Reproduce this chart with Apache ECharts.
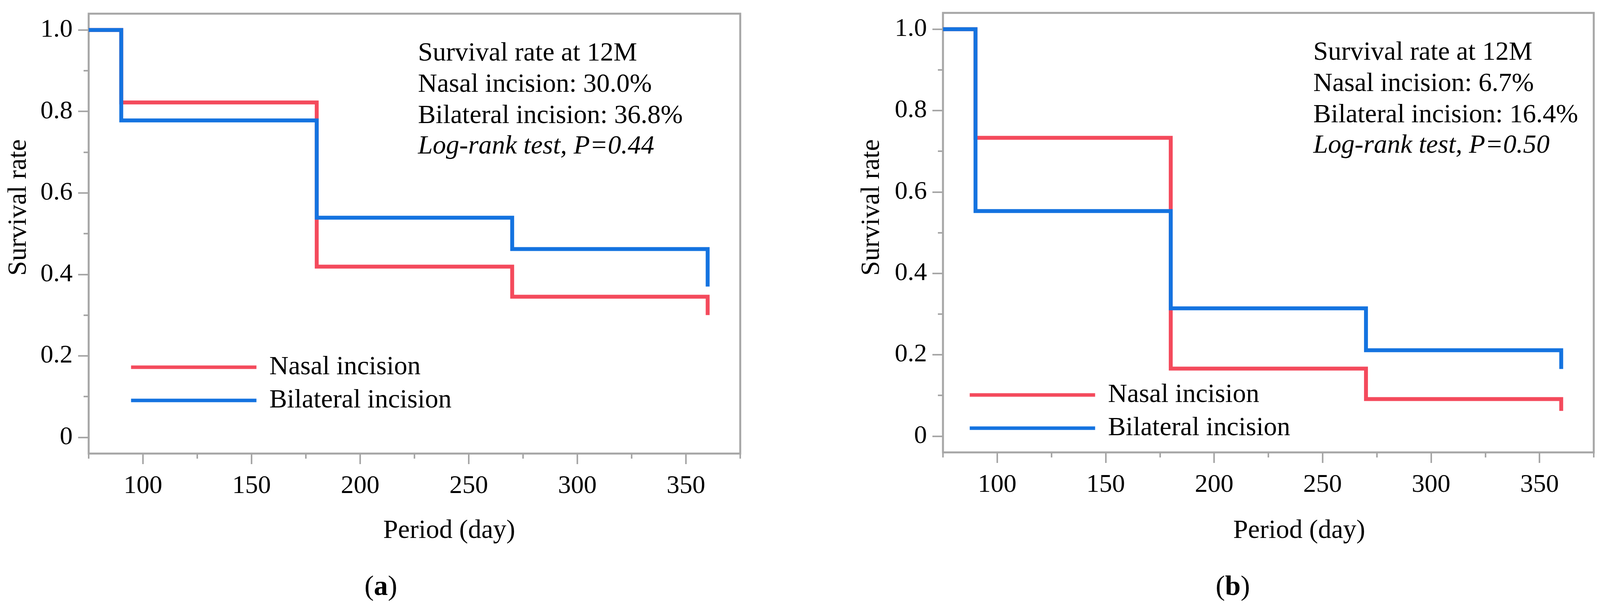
<!DOCTYPE html>
<html>
<head>
<meta charset="utf-8">
<script src="https://cdn.jsdelivr.net/npm/echarts@6/dist/echarts.min.js"></script>
<style>
  html, body { margin: 0; padding: 0; background: #fff; }
  #main { width: 4101px; height: 1564px; }
</style>
</head>
<body>
<div id="main"></div>
<script>
// ---- data ----
const days = [75, 90, 180, 270, 360];
const nasalA = [1.0, 0.822, 0.419, 0.345, 0.300];
const bilateralA = [1.0, 0.778, 0.539, 0.462, 0.370];
const nasalB = [1.0, 0.733, 0.166, 0.091, 0.062];
const bilateralB = [1.0, 0.553, 0.314, 0.211, 0.165];
const seriesNames = ['Nasal incision', 'Bilateral incision'];
const xMajorTicks = [100, 150, 200, 250, 300, 350];
const xMinorTicks = [75, 125, 175, 225, 275, 325, 375];
const yMajorTicks = [0, 0.2, 0.4, 0.6, 0.8, 1.0];
const yMinorTicks = [0.1, 0.3, 0.5, 0.7, 0.9];
const notesA = ['Survival rate at 12M', 'Nasal incision: 30.0%', 'Bilateral incision: 36.8%', 'Log-rank test, P=0.44'];
const notesB = ['Survival rate at 12M', 'Nasal incision: 6.7%', 'Bilateral incision: 16.4%', 'Log-rank test, P=0.50'];
const xTitle = 'Period (day)';
const yTitle = 'Survival rate';

// ---- style ----
const FONT = '"Liberation Serif", "DejaVu Serif", serif';
const GRAY = '#a6a6a6';
const RED = '#f44a5c';
const BLUE = '#1473e0';
const TEXT_SIZE = 68;
const TICK_SIZE = 66;

const grids = [
  { left: 227, top: 35, width: 1668, height: 1126 },
  { left: 2414, top: 33, width: 1666, height: 1125 }
];

function pairs(xs, ys) { return xs.map((x, i) => [x, ys[i]]); }

const xAxes = [], yAxes = [];
grids.forEach((g, gi) => {
  xAxes.push({
    gridIndex: gi, type: 'value', position: 'bottom', min: 75, max: 375, interval: 25,
    axisLine: { show: false, onZero: false },
    axisTick: { show: true, inside: false, customValues: xMajorTicks, length: 27, lineStyle: { color: GRAY, width: 4 } },
    axisLabel: { customValues: xMajorTicks, margin: 51, fontSize: TICK_SIZE, fontFamily: FONT, color: '#000' },
    splitLine: { show: false }
  });
  xAxes.push({
    gridIndex: gi, type: 'value', position: 'bottom', min: 75, max: 375, interval: 25,
    axisLine: { show: false, onZero: false },
    axisTick: { show: true, inside: false, customValues: xMinorTicks, length: 13, lineStyle: { color: GRAY, width: 4 } },
    axisLabel: { show: false },
    splitLine: { show: false }
  });
  yAxes.push({
    gridIndex: gi, type: 'value', position: 'left', min: -0.04, max: 1.04,
    axisLine: { show: false, onZero: false },
    axisTick: { show: true, inside: false, customValues: yMajorTicks, length: 27, lineStyle: { color: GRAY, width: 4 } },
    axisLabel: {
      customValues: yMajorTicks, margin: 41, fontSize: TICK_SIZE, fontFamily: FONT, color: '#000',
      formatter: v => (v === 0 ? '0' : v.toFixed(1))
    },
    splitLine: { show: false }
  });
  yAxes.push({
    gridIndex: gi, type: 'value', position: 'left', min: -0.04, max: 1.04,
    axisLine: { show: false, onZero: false },
    axisTick: { show: true, inside: false, customValues: yMinorTicks, length: 13, lineStyle: { color: GRAY, width: 4 } },
    axisLabel: { show: false },
    splitLine: { show: false }
  });
});

function kmSeries(name, color, gi, values) {
  return {
    name: name, type: 'line', step: 'end',
    xAxisIndex: gi * 2, yAxisIndex: gi * 2,
    data: pairs(days, values),
    symbol: 'none', showSymbol: false,
    lineStyle: { color: color, width: 10, join: 'miter', cap: 'butt' },
    itemStyle: { color: color },
    emphasis: { disabled: true },
    animation: false
  };
}

const series = [
  kmSeries(seriesNames[0], RED, 0, nasalA),
  kmSeries(seriesNames[1], BLUE, 0, bilateralA),
  kmSeries(seriesNames[0], RED, 1, nasalB),
  kmSeries(seriesNames[1], BLUE, 1, bilateralB)
];

function legendAt(left, top) {
  return {
    data: seriesNames, left: left, top: top, orient: 'vertical', padding: 0,
    itemWidth: 321, itemHeight: 9, itemGap: 17, selectedMode: false,
    lineStyle: { width: 9 },
    textStyle: { fontSize: TEXT_SIZE, lineHeight: 68, fontFamily: FONT, color: '#000', padding: [0, 0, 0, 28] }
  };
}

function noteTexts(x, baselines, lines) {
  return lines.map((t, i) => ({
    type: 'text', x: x, y: baselines[i] - 23,
    style: {
      text: t, fontSize: TEXT_SIZE, fontFamily: FONT, fill: '#000',
      fontStyle: i === 3 ? 'italic' : 'normal',
      align: 'left', verticalAlign: 'middle'
    }
  }));
}

function titleText(x, y, text, rotate) {
  return {
    type: 'text', x: x, y: y, rotation: rotate ? Math.PI / 2 : 0,
    style: { text: text, fontSize: TEXT_SIZE, fontFamily: FONT, fill: '#000', align: 'center', verticalAlign: 'middle' }
  };
}

function caption(x, y, letter) {
  return {
    type: 'text', x: x, y: y,
    style: {
      text: '{n|(}{b|' + letter + '}{n|)}', align: 'center', verticalAlign: 'middle',
      rich: {
        n: { fontSize: 72, fontFamily: FONT, fill: '#000' },
        b: { fontSize: 72, fontFamily: FONT, fontWeight: 'bold', fill: '#000' }
      }
    }
  };
}

const graphics = []
  .concat(noteTexts(1070, [160, 240, 320, 398], notesA))
  .concat(noteTexts(3362, [158, 238, 318, 396], notesB))
  .concat([
    titleText(48, 531, yTitle, true),
    titleText(2232, 531, yTitle, true),
    titleText(1150, 1359, xTitle, false),
    titleText(3326, 1359, xTitle, false),
    caption(975, 1504, 'a'),
    caption(3156, 1504, 'b')
  ]);

const chart = echarts.init(document.getElementById('main'), null, { renderer: 'canvas' });
chart.setOption({
  backgroundColor: '#fff',
  animation: false,
  grid: grids.map(g => Object.assign({ show: true, borderColor: GRAY, borderWidth: 5, backgroundColor: 'transparent', containLabel: false }, g)),
  xAxis: xAxes,
  yAxis: yAxes,
  legend: [legendAt(331, 906), legendAt(2478, 977)],
  series: series,
  graphic: graphics
});
</script>
</body>
</html>
